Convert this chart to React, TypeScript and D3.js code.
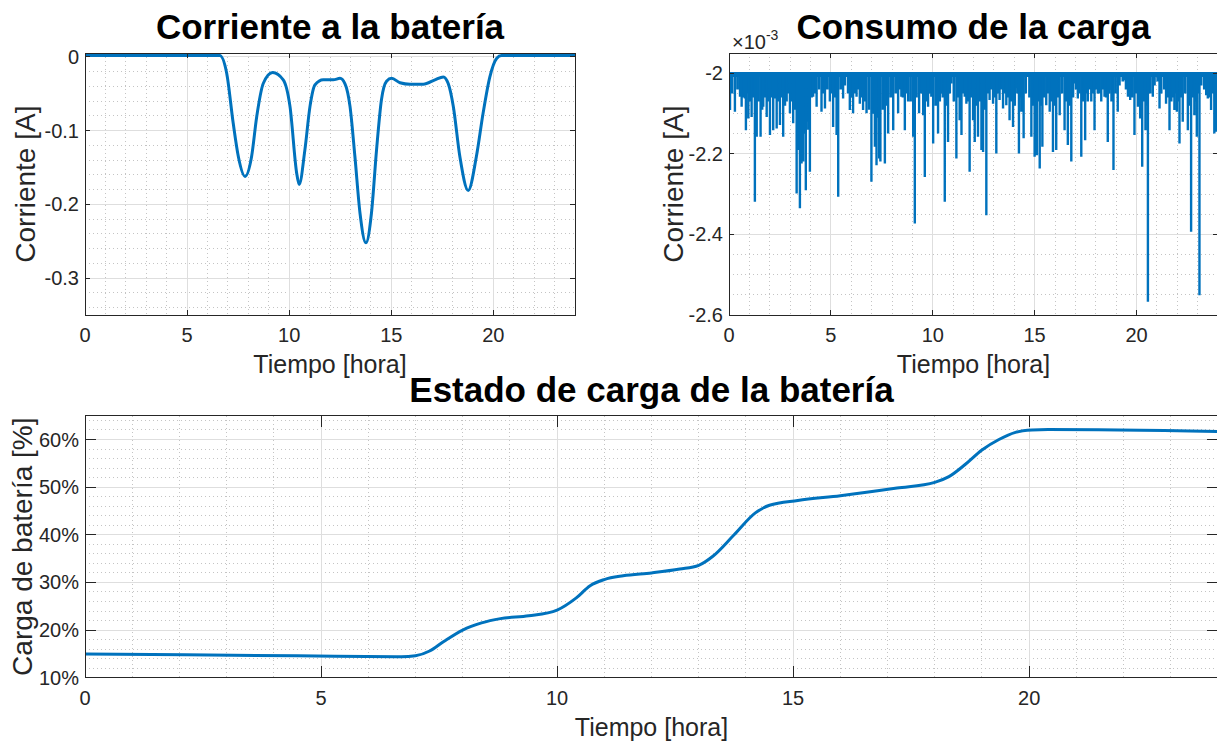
import React from 'react';
import * as d3 from 'd3';

// ---- datos ----
const hourTicks = [0, 5, 10, 15, 20];

// Corriente a la batería [A]
const batHours = [0, 6.6, 6.94, 7.26, 7.51, 7.84, 8.16, 8.41, 8.73, 9.19,
  9.71, 10.04, 10.37, 10.49, 10.77, 11.02, 11.26, 11.67, 12.16, 12.49,
  12.73, 12.98, 13.22, 13.47, 13.76, 14.03, 14.28, 14.52, 14.77, 15.02,
  15.43, 15.92, 16.57, 17.14, 17.55, 17.79, 18.04, 18.36, 18.77, 19.17,
  19.5, 19.83, 20.16, 20.4, 24];
const batCurrent = [0.002, 0.002, -0.022, -0.090, -0.135, -0.162, -0.135, -0.081, -0.036, -0.021,
  -0.031, -0.067, -0.158, -0.173, -0.126, -0.067, -0.038, -0.031, -0.031, -0.029,
  -0.036, -0.067, -0.135, -0.212, -0.252, -0.212, -0.126, -0.058, -0.033, -0.029,
  -0.035, -0.037, -0.037, -0.031, -0.027, -0.036, -0.067, -0.135, -0.181, -0.135,
  -0.076, -0.027, -0.002, 0.002, 0.002];
const batTicks = [0, -0.1, -0.2, -0.3];

// Consumo de la carga [A x 1e-3]: picos grandes
const loadBase = -2.0;
const loadHours = [
  0.05, 0.29, 0.54, 0.62, 0.78, 0.83, 0.95, 1.11, 1.27, 1.36,
  1.55, 1.68, 1.85, 2.01, 2.17, 2.25, 2.34, 2.50, 2.66, 2.83,
  2.99, 3.15, 3.32, 3.40, 3.48, 3.56, 3.64, 3.77, 3.89, 3.97,
  4.13, 4.30, 4.54, 4.71, 4.95, 5.11, 5.28, 5.36, 5.60, 5.77,
  5.93, 6.09, 6.26, 6.42, 6.58, 6.75, 6.99, 7.16, 7.24, 7.37,
  7.43, 7.65, 7.81, 8.06, 8.30, 8.46, 8.63, 8.79, 9.04, 9.12,
  9.33, 9.53, 9.61, 9.77, 9.93, 10.02, 10.26, 10.42, 10.59, 10.75,
  10.92, 11.16, 11.32, 11.41, 11.57, 11.65, 11.81, 11.98, 12.06, 12.22,
  12.39, 12.47, 12.63, 12.79, 12.96, 13.12, 13.28, 13.45, 13.61, 13.77,
  13.94, 14.10, 14.23, 14.35, 14.46, 14.67, 14.84, 15.00, 15.11, 15.25,
  15.38, 15.57, 15.74, 15.90, 16.06, 16.23, 16.47, 16.63, 16.80, 16.96,
  17.12, 17.29, 17.48, 17.61, 17.78, 17.94, 18.10, 18.27, 18.43, 18.59,
  18.68, 18.87, 19.08, 19.25, 19.41, 19.58, 19.69, 19.90, 20.07, 20.18,
  20.28, 20.44, 20.56, 20.80, 20.96, 21.13, 21.29, 21.45, 21.62, 21.78,
  21.86, 21.98, 22.11, 22.27, 22.52, 22.68, 22.84, 22.96, 23.09, 23.25,
  23.42, 23.50, 23.66, 23.82, 23.90];
const loadCurrent = [
  -2.091, -2.095, -2.058, -2.083, -2.062, -2.141, -2.112, -2.108, -2.319, -2.157,
  -2.157, -2.083, -2.108, -2.153, -2.141, -2.062, -2.137, -2.128, -2.157, -2.070,
  -2.099, -2.124, -2.298, -2.190, -2.335, -2.224, -2.219, -2.290, -2.140, -2.244,
  -2.058, -2.083, -2.095, -2.087, -2.070, -2.133, -2.153, -2.306, -2.062, -2.008,
  -2.091, -2.099, -2.058, -2.075, -2.091, -2.099, -2.269, -2.182, -2.228, -2.211,
  -2.219, -2.224, -2.149, -2.141, -2.099, -2.058, -2.141, -2.070, -2.157, -2.373,
  -2.099, -2.104, -2.257, -2.083, -2.058, -2.174, -2.149, -2.050, -2.319, -2.170,
  -2.025, -2.211, -2.116, -2.153, -2.058, -2.075, -2.244, -2.116, -2.170, -2.157,
  -2.190, -2.195, -2.352, -2.066, -2.075, -2.199, -2.066, -2.087, -2.079, -2.116,
  -2.133, -2.037, -2.199, -2.095, -2.161, -2.008, -2.157, -2.207, -2.203, -2.236,
  -2.182, -2.079, -2.095, -2.195, -2.190, -2.104, -2.141, -2.178, -2.219, -2.025,
  -2.062, -2.207, -2.166, -2.070, -2.070, -2.141, -2.050, -2.070, -2.058, -2.170,
  -2.041, -2.240, -2.095, -2.008, -2.017, -2.058, -2.066, -2.153, -2.083, -2.112,
  -2.232, -2.141, -2.567, -2.058, -2.008, -2.087, -2.008, -2.075, -2.141, -2.058,
  -2.091, -2.095, -2.174, -2.120, -2.141, -2.393, -2.104, -2.157, -2.551, -2.008,
  -2.054, -2.062, -2.091, -2.149, -2.145];
// picos pequeños (zona densa bajo -2)
const loadSmallHours = [
  0.15, 0.42, 0.70, 0.89, 1.03, 1.19, 1.31, 1.45, 1.62, 1.76,
  1.93, 2.09, 2.21, 2.42, 2.58, 2.74, 2.91, 3.07, 3.23, 3.36,
  3.44, 3.52, 3.60, 3.70, 3.83, 3.93, 4.05, 4.21, 4.42, 4.62,
  4.83, 5.03, 5.19, 5.48, 5.68, 5.85, 6.01, 6.17, 6.34, 6.50,
  6.67, 6.87, 7.07, 7.20, 7.30, 7.54, 7.73, 7.93, 8.18, 8.38,
  8.54, 8.71, 8.91, 9.20, 9.43, 9.69, 9.85, 10.14, 10.34, 10.50,
  10.67, 10.83, 11.04, 11.24, 11.49, 11.73, 11.89, 12.14, 12.30, 12.55,
  12.71, 12.87, 13.04, 13.20, 13.36, 13.53, 13.69, 13.86, 14.02, 14.16,
  14.29, 14.41, 14.56, 14.75, 14.92, 15.05, 15.18, 15.31, 15.47, 15.65,
  15.82, 15.98, 16.14, 16.35, 16.55, 16.71, 16.88, 17.04, 17.20, 17.38,
  17.55, 17.70, 17.86, 18.02, 18.18, 18.35, 18.51, 18.64, 18.78, 18.97,
  19.16, 19.33, 19.49, 19.63, 19.80, 19.98, 20.12, 20.23, 20.36, 20.50,
  20.68, 20.88, 21.04, 21.21, 21.37, 21.53, 21.70, 21.82, 21.92, 22.04,
  22.19, 22.39, 22.60, 22.76, 22.90, 23.02, 23.17, 23.33, 23.46, 23.58,
  23.74, 23.86];
const loadSmallCurrent = [
  -2.05, -2.04, -2.06, -2.05, -2.07, -2.06, -2.08, -2.07, -2.09, -2.06,
  -2.07, -2.06, -2.05, -2.07, -2.06, -2.08, -2.05, -2.07, -2.09, -2.12,
  -2.14, -2.11, -2.13, -2.15, -2.12, -2.10, -2.06, -2.05, -2.04, -2.05,
  -2.04, -2.05, -2.06, -2.04, -2.03, -2.05, -2.06, -2.05, -2.04, -2.06,
  -2.07, -2.09, -2.10, -2.12, -2.11, -2.09, -2.08, -2.06, -2.05, -2.04,
  -2.06, -2.05, -2.07, -2.06, -2.05, -2.07, -2.05, -2.08, -2.07, -2.06,
  -2.08, -2.05, -2.07, -2.06, -2.05, -2.07, -2.06, -2.08, -2.07, -2.09,
  -2.05, -2.04, -2.06, -2.05, -2.04, -2.05, -2.06, -2.07, -2.08, -2.05,
  -2.06, -2.07, -2.05, -2.06, -2.08, -2.09, -2.07, -2.08, -2.06, -2.05,
  -2.07, -2.08, -2.06, -2.05, -2.07, -2.08, -2.06, -2.04, -2.05, -2.07,
  -2.05, -2.04, -2.05, -2.04, -2.05, -2.04, -2.06, -2.05, -2.07, -2.05,
  -2.03, -2.02, -2.04, -2.05, -2.06, -2.05, -2.04, -2.06, -2.07, -2.08,
  -2.05, -2.03, -2.02, -2.05, -2.04, -2.06, -2.07, -2.06, -2.05, -2.07,
  -2.06, -2.05, -2.08, -2.06, -2.07, -2.05, -2.03, -2.04, -2.05, -2.06,
  -2.05, -2.07];
const loadTicks = [-2, -2.2, -2.4, -2.6];

// Estado de carga [%]
const socHours = [0, 4.5, 6.7, 7.0, 7.3, 7.6, 8.0, 8.4, 8.8, 9.4,
  10.0, 10.4, 10.7, 11.0, 11.4, 12.0, 12.6, 13.0, 13.3, 13.75,
  14.2, 14.5, 15.1, 16.0, 17.2, 18.0, 18.3, 18.65, 19.0, 19.36,
  19.71, 20.06, 20.4, 24];
const socValues = [15.0, 14.6, 14.4, 14.6, 15.6, 17.6, 20.0, 21.5, 22.4, 23.0,
  24.2, 26.7, 29.3, 30.6, 31.4, 32.0, 32.8, 33.6, 35.5, 40.0,
  44.6, 46.2, 47.2, 48.2, 49.8, 51.0, 52.2, 54.8, 57.8, 60.0,
  61.5, 62.0, 62.1, 61.7];
const socTicks = [10, 20, 30, 40, 50, 60];

const FONT = '"Liberation Sans", Arial, Helvetica, sans-serif';
const INK = '#262626';
const BLUE = '#0072BD';

function Panel(props) {
  const { id, left, top, right, bottom, yDomain, yTicks, yMinorStep, yFmt,
    title, yLabel, yLabelX, exponent, plot } = props;
  const x = d3.scaleLinear().domain([0, 24]).range([left, right]);
  const y = d3.scaleLinear().domain(yDomain).range([bottom, top]);
  const tl = 0.01 * (right - left);
  const xMinor = d3.range(1, 25).filter(h => h % 5 !== 0);
  const yMinor = d3.range(Math.ceil(yDomain[0] / yMinorStep - 1e-6), Math.floor(yDomain[1] / yMinorStep + 1e-6) + 1)
    .map(k => k * yMinorStep)
    .filter(v => !yTicks.some(t => Math.abs(t - v) < yMinorStep / 10));
  const cx = (left + right) / 2;
  const cy = (top + bottom) / 2;

  return <g>
    <defs>
      <clipPath id={id}>
        <rect x={left} y={top} width={right - left} height={bottom - top} />
      </clipPath>
    </defs>
    {/* rejilla menor */}
    <g stroke="#c4c4c4" strokeWidth={1} strokeDasharray="1,3" shapeRendering="crispEdges">
      {xMinor.map(h => <line key={'xm' + h} x1={x(h)} x2={x(h)} y1={top} y2={bottom} />)}
      {yMinor.map(v => <line key={'ym' + v} x1={left} x2={right} y1={y(v)} y2={y(v)} />)}
    </g>
    {/* rejilla mayor */}
    <g stroke="#dedede" strokeWidth={1} shapeRendering="crispEdges">
      {hourTicks.slice(1).map(h => <line key={'xg' + h} x1={x(h)} x2={x(h)} y1={top} y2={bottom} />)}
      {yTicks.map(v => <line key={'yg' + v} x1={left} x2={right} y1={y(v)} y2={y(v)} />)}
    </g>
    <g clipPath={`url(#${id})`}>{plot(x, y)}</g>
    {/* caja y marcas */}
    <rect x={left} y={top} width={right - left} height={bottom - top} fill="none" stroke={INK} strokeWidth={1} shapeRendering="crispEdges" />
    <g stroke={INK} strokeWidth={1} shapeRendering="crispEdges">
      {hourTicks.map(h => <g key={'xt' + h}>
        <line x1={x(h)} x2={x(h)} y1={bottom} y2={bottom - tl} />
        <line x1={x(h)} x2={x(h)} y1={top} y2={top + tl} />
      </g>)}
      {yTicks.map(v => <g key={'yt' + v}>
        <line x1={left} x2={left + tl} y1={y(v)} y2={y(v)} />
        <line x1={right} x2={right - tl} y1={y(v)} y2={y(v)} />
      </g>)}
    </g>
    <g fontFamily={FONT} fill={INK}>
      {hourTicks.map(h => <text key={'xl' + h} x={x(h)} y={bottom + 27} fontSize={20} textAnchor="middle">{h}</text>)}
      {yTicks.map(v => <text key={'yl' + v} x={left - 6} y={y(v) + 7} fontSize={20} textAnchor="end">{yFmt(v)}</text>)}
      <text x={cx} y={bottom + 58} fontSize={25} textAnchor="middle">Tiempo [hora]</text>
      <text transform={`translate(${yLabelX},${cy}) rotate(-90)`} fontSize={28} textAnchor="middle">{yLabel}</text>
      {exponent && <text x={left + 3} y={top - 4} fontSize={20}>×10<tspan fontSize={14} dy={-9}>{exponent}</tspan></text>}
    </g>
    <text x={cx} y={top - 14} fontFamily={FONT} fontSize={35} fontWeight="bold" fill="#000" textAnchor="middle">{title}</text>
  </g>;
}

function spikePath(x, y, hours, values) {
  const pts = [{ h: 0, v: loadBase }];
  hours.forEach((h, i) => {
    pts.push({ h, v: loadBase }, { h, v: values[i] }, { h, v: loadBase });
  });
  pts.push({ h: 24, v: loadBase });
  return d3.line().x(d => x(d.h)).y(d => y(d.v))(pts);
}

export default function App() {
  const batData = batHours.map((h, i) => ({ h, v: batCurrent[i] }));
  const socData = socHours.map((h, i) => ({ h, v: socValues[i] }));

  return <div style={{ position: 'absolute', left: 0, top: 0 }}>
    <svg width={1217} height={742} style={{ display: 'block', background: '#fff' }}>
      <Panel id="c1" left={85} top={53.3} right={575} bottom={315}
        yDomain={[-0.35, 0.005]} yTicks={batTicks} yMinorStep={0.02}
        yFmt={v => String(+v.toFixed(2))}
        title="Corriente a la batería" yLabel="Corriente [A]" yLabelX={35}
        plot={(x, y) => {
          const line = d3.line().x(d => x(d.h)).y(d => y(d.v)).curve(d3.curveMonotoneX);
          return <path d={line(batData)} fill="none" stroke={BLUE} strokeWidth={3} strokeLinejoin="round" />;
        }} />
      <Panel id="c2" left={729} top={53.3} right={1218} bottom={315}
        yDomain={[-2.6, -1.95]} yTicks={loadTicks} yMinorStep={0.05}
        yFmt={v => String(+v.toFixed(2))} exponent="-3"
        title="Consumo de la carga" yLabel="Corriente [A]" yLabelX={683}
        plot={(x, y) => <g fill="none" stroke={BLUE}>
          <path d={spikePath(x, y, loadSmallHours, loadSmallCurrent)} strokeWidth={2.8} />
          <path d={spikePath(x, y, loadHours, loadCurrent)} strokeWidth={2.4} />
          <path d={d3.line().x(d => x(d.h)).y(d => y(d.v))([{ h: 0, v: loadBase }, { h: 24, v: loadBase }])}
            strokeWidth={4} transform="translate(0,1.5)" />
        </g>} />
      <Panel id="c3" left={85} top={415.7} right={1218} bottom={677.7}
        yDomain={[10, 65]} yTicks={socTicks} yMinorStep={2}
        yFmt={v => v + '%'}
        title="Estado de carga de la batería" yLabel="Carga de batería [%]" yLabelX={32}
        plot={(x, y) => {
          const line = d3.line().x(d => x(d.h)).y(d => y(d.v)).curve(d3.curveMonotoneX);
          return <path d={line(socData)} fill="none" stroke={BLUE} strokeWidth={3} strokeLinejoin="round" />;
        }} />
    </svg>
  </div>;
}
